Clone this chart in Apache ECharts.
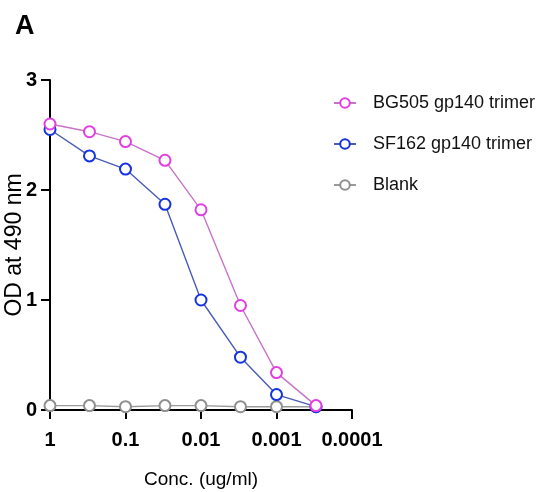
<!DOCTYPE html>
<html>
<head>
<meta charset="utf-8">
<script src="https://cdn.jsdelivr.net/npm/echarts@6/dist/echarts.min.js"></script>
<style>
  html, body { margin: 0; padding: 0; background: #fff; }
  #chart { width: 545px; height: 492px; }
</style>
</head>
<body>
<div id="chart"></div>
<script>
// Serial dilutions (ug/ml) and ELISA readouts (OD 490 nm)
const concentrations = [1, 0.3, 0.1, 0.03, 0.01, 0.003, 0.001, 0.0003];
const bg505Values = [2.60, 2.53, 2.44, 2.27, 1.82, 0.95, 0.34, 0.04];
const sf162Values = [2.55, 2.31, 2.19, 1.87, 1.00, 0.48, 0.14, 0.03];
const blankValues = [0.04, 0.04, 0.03, 0.04, 0.04, 0.03, 0.03, 0.03];
const xTickLabels = ['1', '0.1', '0.01', '0.001', '0.0001'];
const seriesNames = ['BG505 gp140 trimer', 'SF162 gp140 trimer', 'Blank'];

const pairs = vals => concentrations.map((c, i) => [c, vals[i]]);
const font = '"Liberation Sans", Arial, sans-serif';

function lineSeries(name, vals, lineColor, markColor, z) {
  return {
    name: name,
    type: 'line',
    data: pairs(vals),
    symbol: 'circle',
    symbolSize: 11,
    z: z,
    lineStyle: { color: lineColor, width: 1.4 },
    itemStyle: { color: '#fff', borderColor: markColor, borderWidth: 2 },
    emphasis: { disabled: true }
  };
}

const chart = echarts.init(document.getElementById('chart'), null, { renderer: 'canvas' });
chart.setOption({
  animation: false,
  title: {
    text: 'A', left: 10, top: 8,
    textStyle: { fontFamily: font, fontSize: 27, fontWeight: 'bold', color: '#000' }
  },
  grid: { left: 50, top: 80, right: 193, bottom: 82, containLabel: false, outerBoundsMode: 'none' },
  legend: {
    orient: 'vertical', left: 328, top: 89, itemGap: 23,
    itemWidth: 22, itemHeight: 12,
    data: seriesNames,
    textStyle: { fontFamily: font, fontSize: 18, color: '#111', padding: [0, 0, 0, 12] }
  },
  xAxis: {
    type: 'log', logBase: 10, min: 0.0001, max: 1, inverse: true,
    name: 'Conc. (ug/ml)', nameLocation: 'middle', nameGap: 60, nameMoveOverlap: false,
    nameTextStyle: { fontFamily: font, fontSize: 19, color: '#000' },
    axisLine: { onZero: true, lineStyle: { color: '#000', width: 2 } },
    axisTick: { show: true, length: 9, lineStyle: { color: '#000', width: 2 } },
    minorTick: { show: false },
    splitLine: { show: false },
    axisLabel: {
      margin: 20, fontFamily: font, fontSize: 20, fontWeight: 'bold', color: '#000',
      formatter: v => {
        const k = Math.round(-Math.log10(v));
        return xTickLabels[k] !== undefined ? xTickLabels[k] : '';
      }
    }
  },
  yAxis: {
    type: 'value', min: 0, max: 3, interval: 1,
    name: 'OD at 490 nm', nameLocation: 'middle', nameGap: 24, nameMoveOverlap: false,
    nameTextStyle: { fontFamily: font, fontSize: 23, color: '#000' },
    axisLine: { show: true, lineStyle: { color: '#000', width: 2 } },
    axisTick: { show: true, length: 9, lineStyle: { color: '#000', width: 2 } },
    splitLine: { show: false },
    axisLabel: { margin: 13, fontFamily: font, fontSize: 20, fontWeight: 'bold', color: '#000' }
  },
  series: [
    lineSeries(seriesNames[0], bg505Values, '#c873c8', '#e23fe2', 4),
    lineSeries(seriesNames[1], sf162Values, '#4a5bb5', '#1533e0', 3),
    lineSeries(seriesNames[2], blankValues, '#9a9a9a', '#8f8f8f', 2)
  ]
});
</script>
</body>
</html>
